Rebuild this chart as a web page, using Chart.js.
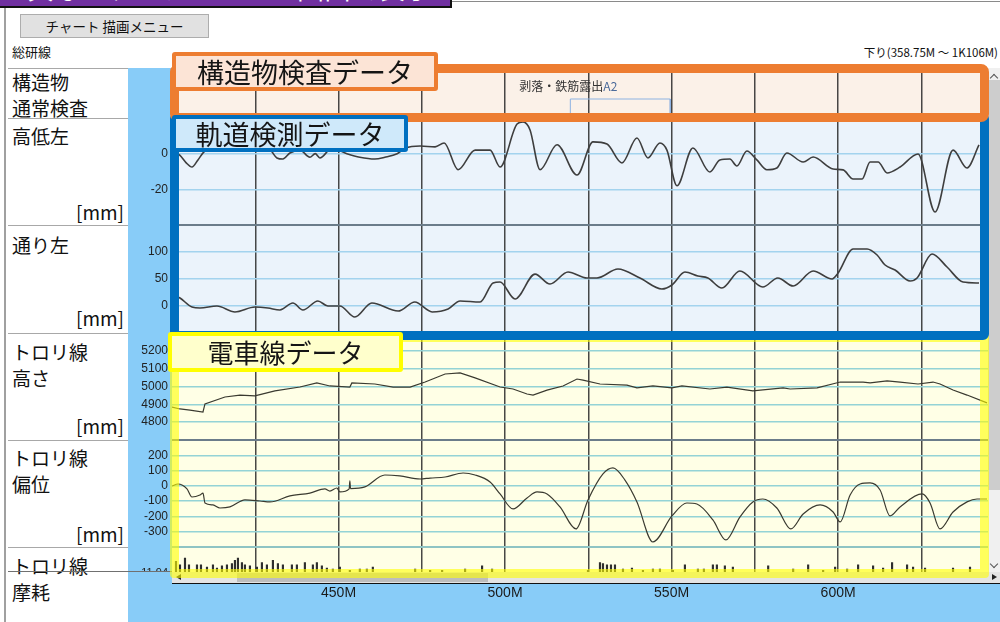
<!DOCTYPE html>
<html>
<head>
<meta charset="utf-8">
<script src="https://cdn.jsdelivr.net/npm/chart.js@4.4.1/dist/chart.umd.min.js"></script>
<style>
    body { margin: 0; width: 1000px; height: 622px; position: relative; overflow: hidden; background: #fff;
           font-family: "Noto Sans CJK JP", "Noto Sans", sans-serif; color: #111; }
    .abs { position: absolute; }
    .rowlbl { position: absolute; left: 12px; font-size: 19px; line-height: 26px; white-space: nowrap; }
    .unit { position: absolute; left: 8px; width: 116px; text-align: right; font-size: 19px; line-height: 26px; }
    .sepL { position: absolute; left: 8px; width: 120px; height: 1px; background: #a8a8a8; }
    .sepP { position: absolute; left: 172px; width: 816px; height: 2px; background: #6b7c8a; }
    .box { position: absolute; box-sizing: border-box; }
    .tag { position: absolute; box-sizing: border-box; border-width: 4px; border-style: solid; border-radius: 3px;
           text-align: center; font-size: 27px; color: #151515; }
</style>
</head>
<body>

<!-- title banner (cut off at the top of the capture) -->
<div class="box" style="left:-3px;top:-30px;width:455px;height:38px;background:#7030a0;border:2px solid #111;overflow:hidden;">
    <div style="padding-left:28px;font-size:27px;line-height:31px;color:#fff;white-space:nowrap;">異なるデータを一つの画面で表示</div>
</div>
<div class="abs" style="left:452px;top:1px;width:548px;height:1px;background:#8a8a8a"></div>

<div class="box" style="left:20px;top:14px;width:189px;height:24px;background:#e1e1e1;border:1px solid #adadad;font-size:13.5px;line-height:22px;text-align:center;">チャート 描画メニュー</div>
<div class="abs" style="left:12px;top:43px;font-size:13px;line-height:18px;">総研線</div>
<div class="abs" style="right:2px;top:43px;font-size:11.5px;line-height:18px;white-space:nowrap;">下り(358.75M ～ 1K106M)</div>

<div class="abs" style="left:4px;top:8px;width:2px;height:614px;background:#a0a0a0"></div>
<div class="abs" style="left:128px;top:68px;width:44px;height:554px;background:#88ccf8"></div>
<div class="abs" style="left:128px;top:583px;width:872px;height:39px;background:#88ccf8"></div>

<!-- label column separators -->
<div class="sepL" style="top:68px"></div>
<div class="sepL" style="top:118px"></div>
<div class="sepL" style="top:225px"></div>
<div class="sepL" style="top:333px"></div>
<div class="sepL" style="top:440px"></div>
<div class="sepL" style="top:547px"></div>

<div class="rowlbl" style="top:69px">構造物<br>通常検査</div>
<div class="rowlbl" style="top:123px">高低左</div>
<div class="unit" style="top:199px">[mm]</div>
<div class="rowlbl" style="top:232px">通り左</div>
<div class="unit" style="top:305px">[mm]</div>
<div class="rowlbl" style="top:339px">トロリ線<br>高さ</div>
<div class="unit" style="top:413px">[mm]</div>
<div class="rowlbl" style="top:445px">トロリ線<br>偏位</div>
<div class="unit" style="top:521px">[mm]</div>
<div class="rowlbl" style="top:553px">トロリ線<br>摩耗</div>

<canvas id="c_struct" class="abs" width="860" height="50" style="left:128px;top:68px"></canvas>
<canvas id="c_kotei" class="abs" width="860" height="107" style="left:128px;top:118px"></canvas>
<canvas id="c_tori" class="abs" width="860" height="108" style="left:128px;top:225px"></canvas>
<canvas id="c_height" class="abs" width="860" height="107" style="left:128px;top:333px"></canvas>
<canvas id="c_offset" class="abs" width="860" height="107" style="left:128px;top:440px"></canvas>
<canvas id="c_wear" class="abs" width="860" height="51" style="left:128px;top:547px"></canvas>

<!-- the wear tick label is cut by the scroll bar in the blue column too -->
<div class="abs" style="left:128px;top:572px;width:44px;height:11px;background:#88ccf8"></div>
<div class="abs" style="left:8px;top:571px;width:164px;height:1px;background:#707070"></div>

<!-- plot row borders -->
<div class="sepP" style="top:117px"></div>
<div class="sepP" style="top:224px"></div>
<div class="sepP" style="top:332px"></div>
<div class="sepP" style="top:439px"></div>
<div class="sepP" style="top:546px;background:#8fc4c4"></div>

<!-- scrollbars -->
<div class="abs" style="left:988px;top:68px;width:12px;height:504px;background:#f0f0f0"></div>
<div class="abs" style="left:988px;top:80px;width:12px;height:410px;background:#cdcdcd"></div>
<div class="abs" style="left:991px;top:75px;width:5px;height:5px;border-left:1.5px solid #555;border-top:1.5px solid #555;transform:rotate(45deg)"></div>
<div class="abs" style="left:991px;top:561px;width:5px;height:5px;border-right:1.5px solid #555;border-bottom:1.5px solid #555;transform:rotate(45deg)"></div>
<div class="abs" style="left:172px;top:572px;width:816px;height:11px;background:#e4e4e4"></div>
<div class="abs" style="left:237px;top:573px;width:251px;height:9px;background:#bdbdbd"></div>
<div class="abs" style="left:176px;top:574px;width:0;height:0;border-top:3.5px solid transparent;border-bottom:3.5px solid transparent;border-right:5px solid #222"></div>
<div class="abs" style="left:988px;top:572px;width:12px;height:11px;background:#e4e4e4"></div>
<div class="abs" style="left:992px;top:574px;width:0;height:0;border-top:3.5px solid transparent;border-bottom:3.5px solid transparent;border-left:5px solid #222"></div>
<div class="abs" style="left:172px;top:583px;width:828px;height:1px;background:#111"></div>

<!-- highlight frames -->
<div class="box" style="left:170px;top:333px;width:819px;height:245px;border:9px solid rgba(255,255,0,0.6);border-radius:4px"></div>
<div class="box" style="left:170px;top:113px;width:819px;height:227px;border:9px solid #0070c0;border-radius:6px"></div>
<div class="box" style="left:170px;top:64px;width:819px;height:58px;border:9px solid #ed7d31;border-radius:8px"></div>
<div class="tag" style="left:172px;top:52px;width:266px;height:39px;border-color:#ed7d31;background:#fce4d6;line-height:31px">構造物検査データ</div>
<div class="tag" style="left:172px;top:115px;width:236px;height:37px;border-color:#0070c0;background:#cfe9fa;line-height:29px">軌道検測データ</div>
<div class="tag" style="left:168px;top:332px;width:235px;height:40px;border-color:#ffff00;background:#ffffcc;line-height:32px;font-size:26px">電車線データ</div>

<script>
// kilometrage range and grid (metres)
var xMin = 400;
var xMax = 645;
var gridM = [425, 450, 475, 500, 525, 550, 575, 600, 625];
var axisM = [450, 500, 550, 600];

// structure inspection
var structStart = [519.6];
var structEnd = [549.6];
var structText = ["剥落・鉄筋露出"];
var structRank = ["A2"];

// 高低左
var koteiM = [400.0, 402.4, 404.2, 406.0, 407.8, 409.6, 412.9, 418.9, 424.9, 429.4, 431.5, 433.3, 435.4, 438.4,
    441.4, 443.0, 444.4, 448.0, 452.5, 456.4, 460.9, 463.9, 467.6, 470.0, 474.5, 479.0, 481.7, 485.9, 491.0,
    495.5, 498.5, 503.6, 505.4, 507.5, 510.5, 515.6, 521.6, 526.4, 530.6, 535.1, 539.6, 542.9, 546.5, 548.6,
    551.6, 556.4, 561.5, 564.5, 567.5, 569.6, 572.6, 575.6, 578.6, 581.6, 584.6, 589.5, 592.5, 598.5, 601.5,
    604.5, 607.2, 609.6, 612.0, 614.7, 618.6, 624.0, 629.1, 634.5, 638.7, 642.3];
var koteiVal = [2, -1, -5, -7.5, -3.5, 1, 4, 6, 3, 2, -2.4, -3, 0.4, 2,
    -2, 0, -2.4, 3, 0, -2, -3, -2, 0, 3, 4.3, 3.8, 6, -9, 2,
    2, -7.5, 16.6, 17.8, 13.3, -9, 5, -12, 6.6, 5.4, -5.2, 8.8, -2.4, 6, 2,
    -18, 3.2, -10.3, -3.5, -3, -6.9, 1.5, -3.5, -9, -8, 0.4, -4.7, -1.9, -8.6, -9.1,
    -14.2, -14.2, -4.7, -4.7, -10.8, -7.5, -0.2, -32.7, 2, -8, 4.9];

// 通り左
var toriM = [401.2, 402.4, 406.0, 408.4, 413.5, 418.9, 424.9, 428.8, 432.4, 436.3, 439.3, 443.8, 446.8, 450.4,
    454.9, 460.0, 467.9, 472.9, 478.1, 482.9, 486.5, 492.5, 496.4, 498.5, 503.0, 509.0, 513.5, 518.9,
    524.6, 527.6, 533.9, 540.5, 547.1, 550.1, 554.0, 557.9, 560.9, 565.1, 570.5, 577.4, 581.9, 586.5,
    592.5, 598.2, 600.0, 604.5, 608.7, 611.7, 614.1, 617.1, 621.6, 623.7, 628.2, 632.7, 637.5, 642.3];
var toriVal = [18.5, 14.8, -1.9, -3.7, 0, -11, -1.9, -3.7, -7.4, 5.6, -7.4, 9.3, 0, 0,
    -20.4, 5.6, -9.3, 7.4, -11, -5.6, 9.3, 7.4, 42.6, 44.4, 13, 59, 40.7, 63,
    51.9, 51.9, 68.5, 51.9, 31.5, 38.9, 63, 55.6, 51.9, 33.3, 64.8, 35.2, 51.9, 37,
    64.8, 50, 61.1, 105.6, 105.6, 94.4, 75.9, 66.7, 46.3, 51.9, 96.3, 72.2, 44.4, 42.6];

// トロリ線高さ
var heightM = [400.0, 402.4, 405.4, 409.3, 409.9, 415.9, 420.4, 424.9, 430.9, 438.4, 443.5, 447.4, 453.4,
    454.0, 460.9, 466.4, 471.5, 476.0, 482.0, 486.5, 491.0, 498.5, 502.4, 506.6, 508.4, 512.6, 517.4,
    521.6, 523.4, 528.5, 536.6, 539.6, 544.4, 550.1, 553.1, 561.5, 566.6, 574.4, 583.5, 585.6, 593.7,
    600.6, 607.5, 609.6, 614.7, 618.6, 624.0, 628.5, 630.6, 634.5, 638.7, 644.7];
var heightVal = [4885, 4874, 4868, 4857, 4902, 4941, 4952, 4947, 4975, 4997, 5020, 5003, 4997,
    5020, 5014, 4997, 4997, 5025, 5070, 5076, 5048, 4997, 4986, 4958, 4952, 4980, 5003,
    5042, 5036, 5014, 5008, 4992, 5003, 4992, 5003, 4986, 4997, 4975, 4992, 4986, 4992,
    5025, 5025, 5020, 5031, 5025, 5014, 5025, 5014, 4980, 4952, 4908];

// トロリ線偏位
var offsetM = [400.0, 401.8, 404.5, 406.0, 408.4, 409.3, 409.9, 412.3, 414.4, 417.4, 421.9, 426.4, 429.4,
    435.4, 441.4, 445.9, 447.4, 449.5, 450.4, 453.2, 453.4, 453.6, 457.9, 463.9, 468.4, 474.5, 477.5,
    482.0, 487.4, 491.0, 495.5, 498.5, 502.4, 506.6, 509.6, 512.6, 516.5, 521.3, 524.9, 529.4, 532.4,
    536.0, 539.6, 544.4, 550.1, 554.6, 557.6, 562.4, 566.3, 570.5, 574.4, 577.4, 581.6, 585.8, 589.5,
    594.6, 598.5, 600.6, 603.6, 606.6, 609.6, 612.6, 615.6, 618.6, 625.2, 627.6, 630.6, 634.5, 638.7,
    641.7, 644.7];
var offsetVal = [-1, 12, -20, -73, -60, -47, -112, -125, -145, -138, -92, -99, -105,
    -66, -47, -20, -34, -14, -40, -20, 32, -18, -7, 71, 65, 45, 51,
    58, 84, 71, 25, -53, -151, -79, -40, -53, -138, -282, -92, 78, 117,
    38, -105, -367, -197, -112, -119, -223, -354, -204, -105, -86, -145, -282, -184,
    -125, -171, -236, -60, 12, 19, -27, -197, -138, -53, -112, -282, -171, -105,
    -86, -86];

// トロリ線摩耗
var wearM = [401.2, 402.4, 403.9, 405.1, 407.5, 408.7, 410.5, 412.3, 413.5, 415.0, 416.5, 418.0, 418.9,
    419.8, 421.0, 421.9, 423.4, 425.5, 427.0, 428.5, 430.3, 431.8, 433.3, 436.0, 437.5, 439.9, 442.3,
    443.5, 445.0, 446.5, 448.3, 450.4, 453.4, 456.4, 458.5, 460.3, 473.0, 477.5, 481.1, 488.0, 493.1,
    496.1, 524.9, 528.5, 529.4, 530.6, 531.8, 533.0, 535.4, 538.1, 541.4, 544.4, 546.5, 550.4, 554.0,
    557.9, 559.7, 562.4, 563.6, 566.0, 568.4, 579.0, 586.5, 591.0, 595.5, 599.1, 602.7, 606.0, 610.5,
    613.5, 616.2, 620.7, 622.5, 626.1, 634.5, 639.6];
var wearVal = [12.04, 12.01, 12.07, 12.01, 12.01, 12.01, 11.99, 12.01, 11.98, 12.00, 12.01, 12.02, 12.05,
    12.07, 12.03, 12.01, 12.00, 11.99, 12.03, 12.01, 12.05, 12.02, 12.01, 12.01, 12.01, 12.03, 12.01,
    12.03, 12.00, 11.98, 11.97, 11.99, 11.96, 11.97, 11.97, 11.99, 11.97, 11.96, 11.96, 11.97, 12.00,
    11.97, 11.96, 12.03, 12.02, 12.01, 12.01, 12.01, 11.97, 11.98, 11.96, 11.97, 11.97, 11.96, 12.01,
    11.97, 11.97, 12.01, 12.01, 12.00, 11.99, 12.00, 11.97, 12.01, 11.96, 11.99, 11.97, 12.01, 12.00,
    11.98, 12.03, 12.01, 11.99, 11.98, 11.98, 11.99];

Chart.defaults.font.family = '"Liberation Sans", Arial, sans-serif';
Chart.defaults.animation = false;

function pts(ms, vs) {
    return ms.map(function (m, i) {
        return { x: m, y: vs[i] };
    });
}

// fill the plot area of each row
var areaFill = {
    id: "areaFill",
    beforeDraw: function (chart, args, opts) {
        var a = chart.chartArea;
        var ctx = chart.ctx;
        ctx.save();
        ctx.fillStyle = opts.color;
        ctx.fillRect(a.left, a.top, a.right - a.left, a.bottom - a.top);
        ctx.restore();
    },
};

// text of the structure defects
var structLabel = {
    id: "structLabel",
    afterDatasetsDraw: function (chart) {
        var ctx = chart.ctx;
        var xs = chart.scales.x;
        ctx.save();
        ctx.font = '12px "Noto Sans CJK JP"';
        ctx.textBaseline = "middle";
        structStart.forEach(function (s, i) {
            var w1 = ctx.measureText(structText[i]).width;
            var w2 = ctx.measureText(structRank[i]).width;
            var x0 = xs.getPixelForValue(s) - (w1 + w2) / 2 - 2;
            var y0 = chart.chartArea.top + 18;
            ctx.fillStyle = "#333";
            ctx.fillText(structText[i], x0, y0);
            ctx.fillStyle = "#4a6a9a";
            ctx.fillText(structRank[i], x0 + w1, y0);
        });
        ctx.restore();
    },
};

function xScale(withLabels) {
    var sc = {
        type: "linear",
        min: xMin,
        max: xMax,
        offset: false,
        ticks: { display: false },
        grid: { color: "rgba(40,40,40,0.85)", lineWidth: 1.5, drawTicks: false, offset: false },
        border: { display: false },
        afterBuildTicks: function (s) {
            s.ticks = gridM.map(function (v) { return { value: v }; });
        },
        afterFit: function (s) {
            s.height = 0;
        },
    };
    if (withLabels) {
        // distance labels sit below the scroll bar
        sc.ticks = {
            display: true,
            autoSkip: false,
            maxRotation: 0,
            color: "#1a1a1a",
            font: { size: 14 },
            padding: 12,
            callback: function (v) { return axisM.indexOf(v) >= 0 ? v + "M" : ""; },
        };
        delete sc.afterFit;
    }
    return sc;
}

function yScale(yMin, yMax, yTicks, gridColor, showTicks) {
    return {
        type: "linear",
        min: yMin,
        max: yMax,
        ticks: {
            display: showTicks,
            color: "#222",
            font: { size: 12 },
            padding: 4,
            callback: function (v) { return String(v); },
        },
        grid: { display: showTicks, color: gridColor, lineWidth: 1.5, drawTicks: false },
        border: { display: false },
        afterBuildTicks: function (s) {
            s.ticks = yTicks.map(function (v) { return { value: v }; });
        },
        afterFit: function (s) {
            s.width = 44;
            s.paddingTop = 0;
            s.paddingBottom = 0;
        },
    };
}

function rowChart(id, type, datasets, y, bg, extra, withLabels) {
    var ctx = document.getElementById(id).getContext("2d");
    return new Chart(ctx, {
        type: type,
        data: { datasets: datasets },
        plugins: [areaFill].concat(extra || []),
        options: {
            responsive: false,
            animation: false,
            devicePixelRatio: 1,
            layout: { padding: 0 },
            plugins: {
                legend: { display: false },
                tooltip: { enabled: false },
                areaFill: { color: bg },
            },
            scales: { x: xScale(withLabels), y: y },
        },
    });
}

var trackLine = { borderColor: "#3e3e3e", borderWidth: 1.6, pointRadius: 0, cubicInterpolationMode: "monotone", fill: false };
var wireLine = { borderColor: "#3a3a30", borderWidth: 1.2, pointRadius: 0, tension: 0, fill: false };

// 構造物通常検査
var bracket = [];
structStart.forEach(function (s, i) {
    bracket.push({ x: s, y: 0 }, { x: s, y: 0.38 }, { x: structEnd[i], y: 0.38 }, { x: structEnd[i], y: 0 });
});
rowChart("c_struct", "line",
    [{ data: bracket, borderColor: "#8db3e2", borderWidth: 1, pointRadius: 0, tension: 0, fill: false }],
    yScale(0, 1, [0, 1], "#fff", false), "#fbf1e8", [structLabel]);

rowChart("c_kotei", "line",
    [Object.assign({ data: pts(koteiM, koteiVal) }, trackLine)],
    yScale(-40, 20, [0, -20], "#a3d3ee", true), "#ebf3fb");

rowChart("c_tori", "line",
    [Object.assign({ data: pts(toriM, toriVal) }, trackLine)],
    yScale(-50, 150, [0, 50, 100], "#a3d3ee", true), "#ebf3fb");

rowChart("c_height", "line",
    [Object.assign({ data: pts(heightM, heightVal) }, wireLine)],
    yScale(4700, 5300, [4800, 4900, 5000, 5100, 5200], "#94d3d6", true), "#ffffe6");

rowChart("c_offset", "line",
    [Object.assign({ data: pts(offsetM, offsetVal), cubicInterpolationMode: "monotone" }, wireLine)],
    yScale(-400, 300, [-300, -200, -100, 0, 100, 200], "#94d3d6", true), "#ffffe6");

var wearY = yScale(11.94, 12.17, [11.94], "rgba(0,0,0,0)", true);
wearY.ticks.font = { size: 11 };
rowChart("c_wear", "bar",
    [{ data: pts(wearM, wearVal), backgroundColor: "#2e2e2e", barThickness: 1.5 }],
    wearY, "#ffffe6", [], true);
</script>
</body>
</html>
